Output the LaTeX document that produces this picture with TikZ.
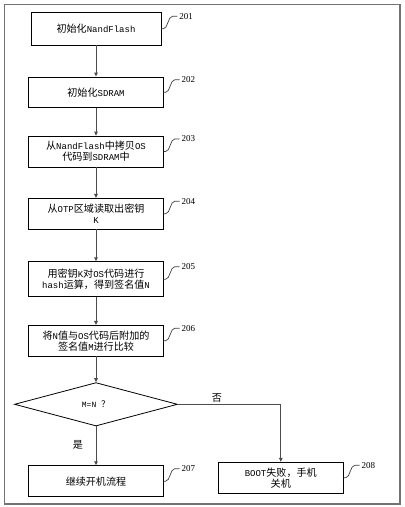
\documentclass[tikz,border=0pt]{standalone}
\usepackage{fontspec}
\setmainfont{Liberation Mono}
\newfontfamily\cjk[Scale=1.12]{Noto Sans CJK SC}
\newfontfamily\numfont{Liberation Serif}
\newcommand{\C}[1]{{\cjk #1}}
\usetikzlibrary{shapes.geometric,arrows.meta}
\newcommand{\reftag}[2]{\draw[tagline] (#1.east) -- ++(2,0) .. controls +(4.5,0) and +(-4.5,0) .. ++(9,-12.5) -- ++(5,0) node[anchor=west,inner sep=1.5pt,font=\numfont\fontsize{9}{10}\selectfont] (t#1) {#2};}
\begin{document}
\begin{tikzpicture}[x=1pt,y=-1pt,
  box/.style={draw=black,line width=0.8pt,inner sep=0pt,align=center,font=\fontsize{9}{11}\selectfont},
  arr/.style={draw=black!70,line width=0.9pt,-{Triangle[length=4pt,width=3.6pt]}},
  tagline/.style={draw=black!75,line width=0.7pt},
  lbl/.style={inner sep=0pt,font=\fontsize{9}{11}\selectfont}]
\useasboundingbox (0,0) rectangle (405,507);
\draw[black!55,line width=1.2pt] (4.3,4.3) rectangle (400,504);

\node[box,minimum width=130,minimum height=32.3] (n201) at (96,28.8) {\C{初始化}NandFlash};
\node[box,minimum width=134.6,minimum height=30.7] (n202) at (96,92.3) {\C{初始化}SDRAM};
\node[box,minimum width=134.6,minimum height=31] (n203) at (96,151.5) {\C{从}NandFlash\C{中拷贝}OS\\\C{代码到}SDRAM\C{中}};
\node[box,minimum width=134.6,minimum height=30.7] (n204) at (96,213.7) {\C{从}OTP\C{区域读取出密钥}\\K};
\node[box,minimum width=134.6,minimum height=35] (n205) at (96,279.2) {\C{用密钥}K\C{对}OS\C{代码进行}\\hash\C{运算，得到签名值}N};
\node[box,minimum width=134.6,minimum height=30.7] (n206) at (96,340.7) {\C{将}N\C{值与}OS\C{代码后附加的}\\\C{签名值}M\C{进行比较}};
\node[draw=black,line width=0.8pt,diamond,inner sep=0pt,minimum width=163,minimum height=43.4,font=\fontsize{8}{9}\selectfont] (dec) at (96,404.3) {M=N \C{？}};
\node[box,minimum width=134.6,minimum height=31] (n207) at (96,481.2) {\C{继续开机流程}};
\node[box,minimum width=125,minimum height=31] (n208) at (280.8,477.8) {BOOT\C{失败，手机}\\\C{关机}};

\draw[arr] (n201.south) -- (n202.north);
\draw[arr] (n202.south) -- (n203.north);
\draw[arr] (n203.south) -- (n204.north);
\draw[arr] (n204.south) -- (n205.north);
\draw[arr] (n205.south) -- (n206.north);
\draw[arr] (n206.south) -- (dec.north);
\draw[arr] (dec.south) -- (n207.north);
\draw[arr] (dec.east) -| (n208.north);

\node[lbl] (no) at (217,397.5) {\C{否}};
\node[lbl] (yes) at (78,445) {\C{是}};

\reftag{n201}{201}
\reftag{n202}{202}
\reftag{n203}{203}
\reftag{n204}{204}
\reftag{n205}{205}
\reftag{n206}{206}
\reftag{n207}{207}
\reftag{n208}{208}
\end{tikzpicture}
\end{document}
